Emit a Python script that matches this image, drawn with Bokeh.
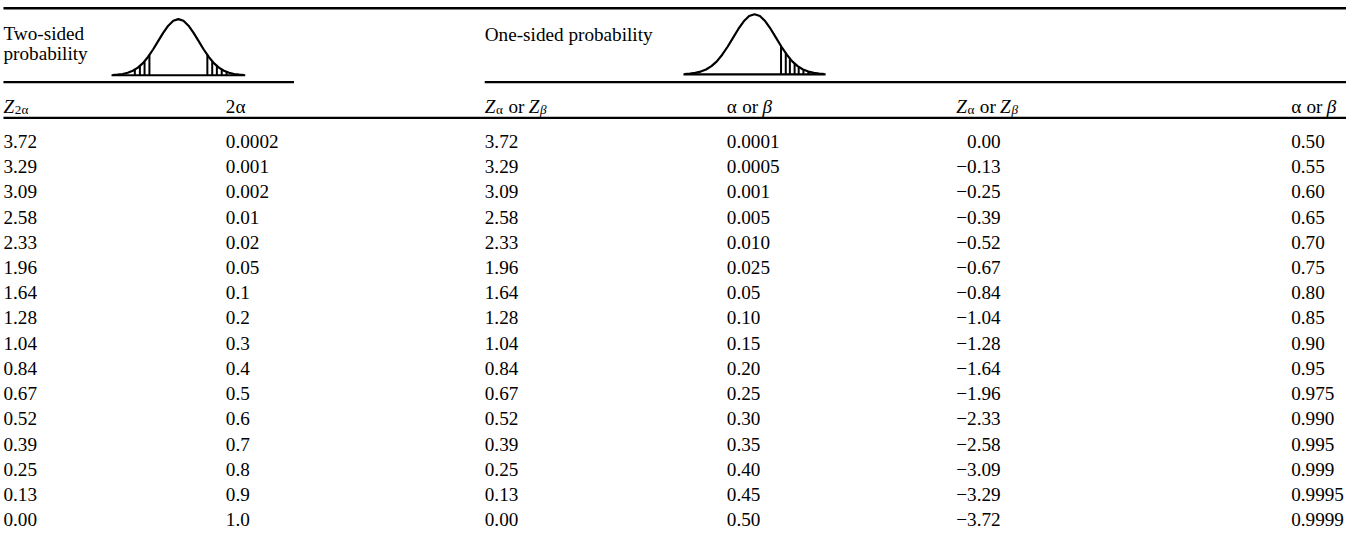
import numpy as np
from bokeh.plotting import figure
from bokeh.models import Range1d
from bokeh.core.properties import value
from bokeh.embed import file_html
from bokeh.resources import INLINE

z_two_sided = ["3.72", "3.29", "3.09", "2.58", "2.33", "1.96", "1.64", "1.28",
               "1.04", "0.84", "0.67", "0.52", "0.39", "0.25", "0.13", "0.00"]
p_two_sided = ["0.0002", "0.001", "0.002", "0.01", "0.02", "0.05", "0.1", "0.2",
               "0.3", "0.4", "0.5", "0.6", "0.7", "0.8", "0.9", "1.0"]
z_one_sided = ["3.72", "3.29", "3.09", "2.58", "2.33", "1.96", "1.64", "1.28",
               "1.04", "0.84", "0.67", "0.52", "0.39", "0.25", "0.13", "0.00"]
p_one_sided = ["0.0001", "0.0005", "0.001", "0.005", "0.010", "0.025", "0.05", "0.10",
               "0.15", "0.20", "0.25", "0.30", "0.35", "0.40", "0.45", "0.50"]
z_one_sided_neg = ["0.00", "\u22120.13", "\u22120.25", "\u22120.39", "\u22120.52", "\u22120.67",
                   "\u22120.84", "\u22121.04", "\u22121.28", "\u22121.64", "\u22121.96", "\u22122.33",
                   "\u22122.58", "\u22123.09", "\u22123.29", "\u22123.72"]
p_one_sided_hi = ["0.50", "0.55", "0.60", "0.65", "0.70", "0.75", "0.80", "0.85",
                  "0.90", "0.95", "0.975", "0.990", "0.995", "0.999", "0.9995", "0.9999"]

# bell-curve icon, digitised (z, density)
curve_z = [-3.25, -3.0, -2.75, -2.5, -2.25, -2.0, -1.75, -1.5, -1.25, -1.0, -0.75, -0.5, -0.25,
           0.0, 0.25, 0.5, 0.75, 1.0, 1.25, 1.5, 1.75, 2.0, 2.25, 2.5, 2.75, 3.0, 3.25]
curve_d = [0.002, 0.004, 0.009, 0.018, 0.032, 0.054, 0.086, 0.130, 0.183, 0.242, 0.301, 0.352, 0.387,
           0.399, 0.387, 0.352, 0.301, 0.242, 0.183, 0.130, 0.086, 0.054, 0.032, 0.018, 0.009, 0.004, 0.002]
two_sided_hatch_z = [-2.15, -1.9, -1.67, -1.43, 1.43, 1.67, 1.9, 2.14, 2.38]
one_sided_hatch_z = [1.23, 1.45, 1.64, 1.86, 2.05, 2.27, 2.5]

# ---------------- figure ----------------
W, H = 1346, 533
p = figure(width=W, height=H, x_range=Range1d(0, 1362), y_range=Range1d(549, 0),
           output_backend="svg", toolbar_location=None, x_axis_type=None, y_axis_type=None,
           min_border=0, outline_line_color=None, background_fill_color="white",
           border_fill_color="white")
p.grid.visible = False

FONT = "Liberation Serif"
FS = "19.2px"
FS_SUB = "13.2px"


def txt(x, y, s, style="normal", size=FS, align="left"):
    p.text(x=[x], y=[y], text=[s], text_font=value(FONT), text_font_size=value(size),
           text_font_style=style, text_align=align, text_baseline="alphabetic", text_color="black")


# rules
p.segment(x0=[3], y0=[8], x1=[1362], y1=[8], line_width=2.5, line_color="black")
p.segment(x0=[3, 490], y0=[84, 84], x1=[297, 1362], y1=[84, 84], line_width=2.2, line_color="black")
p.segment(x0=[3], y0=[121], x1=[1362], y1=[121], line_width=2.2, line_color="black")

# group headers
txt(3, 34, "Two-sided")
txt(3, 55, "probability")
txt(490, 35, "One-sided probability")

cz = np.array(curve_z)
cd = np.array(curve_d)


def bell(cx, base, sx, sy, hatch):
    xs = cx + cz * sx
    ys = base - cd * sy
    p.line(xs, ys, line_width=2.2, line_color="black")
    p.segment(x0=[cx - 3.3 * sx], y0=[base], x1=[cx + 3.3 * sx], y1=[base],
              line_width=2.2, line_color="black")
    hz = np.array(hatch)
    hd = np.interp(hz, cz, cd)
    p.segment(x0=cx + hz * sx, y0=[base] * len(hz), x1=cx + hz * sx, y1=base - hd * sy,
              line_width=2, line_color="black")


bell(180, 77, 20.5, 145, two_sided_hatch_z)
bell(763, 76, 21.8, 155, one_sided_hatch_z)

# column headers
hy = 109
sub_dy = 3.5
txt(3, hy, "Z", style="italic")
txt(14.5, hy + sub_dy, "2\u03b1", size=FS_SUB)
txt(228, hy, "2\u03b1")


def z_or_z(x0):
    txt(x0, hy, "Z", style="italic")
    txt(x0 + 11.5, hy + sub_dy, "\u03b1", size=FS_SUB)
    txt(x0 + 24, hy, "or")
    txt(x0 + 44.5, hy, "Z", style="italic")
    txt(x0 + 56, hy + sub_dy, "\u03b2", style="italic", size=FS_SUB)


def a_or_b(x0):
    txt(x0, hy, "\u03b1")
    txt(x0 + 15.5, hy, "or")
    txt(x0 + 36, hy, "\u03b2", style="italic")


z_or_z(490)
a_or_b(735)
z_or_z(967)
a_or_b(1306)

# body rows
n = len(z_two_sided)
row_y = [145 + i * 26.0 for i in range(n)]
cols = [(3, "left", z_two_sided), (228, "left", p_two_sided), (490, "left", z_one_sided),
        (735, "left", p_one_sided), (1012, "right", z_one_sided_neg), (1306, "left", p_one_sided_hi)]
for x, al, vals in cols:
    p.text(x=[x] * n, y=row_y, text=vals, text_font=value(FONT), text_font_size=value(FS),
           text_align=al, text_baseline="alphabetic", text_color="black")

open("out.html", "w").write(file_html(p, INLINE))
